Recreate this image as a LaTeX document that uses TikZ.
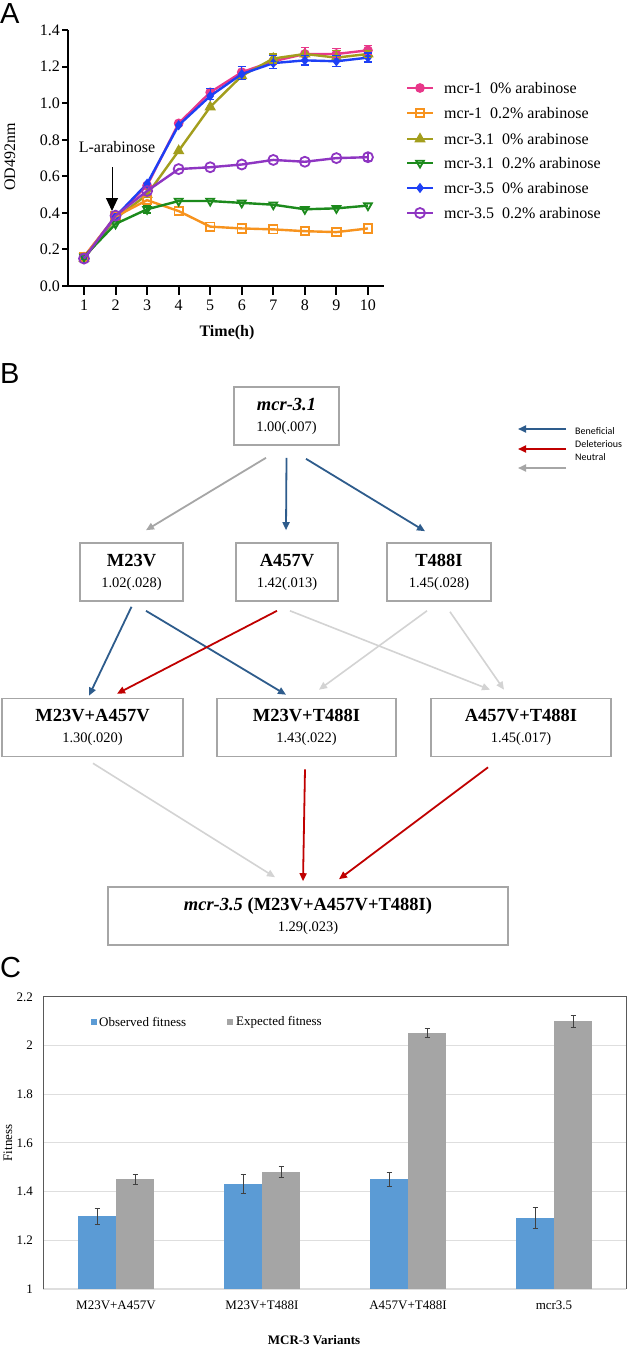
\documentclass[tikz,border=0pt]{standalone}
\usepackage{fontspec}
\setmainfont{Liberation Serif}
\newfontfamily\arialf{Liberation Sans}
\newfontfamily\calib{Carlito}
\usetikzlibrary{arrows.meta,plotmarks,calc}
\definecolor{cpink}{HTML}{E8388A}
\definecolor{corange}{HTML}{F7931E}
\definecolor{colive}{HTML}{A39E1D}
\definecolor{cgreen}{HTML}{1C8A1C}
\definecolor{cblueA}{HTML}{1E40F5}
\definecolor{cpurple}{HTML}{8E35C2}
\definecolor{bben}{HTML}{2E5C8C}
\definecolor{bdel}{HTML}{C00000}
\definecolor{bneu}{HTML}{A6A6A6}
\definecolor{bneul}{HTML}{D3D3D3}
\definecolor{boxgray}{HTML}{A6A6A6}
\definecolor{obsc}{HTML}{5B9BD5}
\definecolor{expc}{HTML}{A5A5A5}
\definecolor{gridc}{HTML}{DEDEDE}
\definecolor{framec}{HTML}{595959}
\definecolor{errc}{HTML}{404040}
\newcommand{\fs}[1]{\fontsize{#1}{1.2\dimexpr #1pt\relax}\selectfont}
\newcommand{\ebar}[4]{\draw[#1,line width=1.4pt] (#2,#3) -- (#2,#4) (#2-0.13,#3) -- (#2+0.13,#3) (#2-0.13,#4) -- (#2+0.13,#4);}
\newcommand{\cbar}[3]{\draw[errc,line width=0.8pt] (#1,#2) -- (#1,#3) (#1-2.5,#2) -- (#1+2.5,#2) (#1-2.5,#3) -- (#1+2.5,#3);}
\tikzset{
  ser/.style={line width=2.4pt},
  openmk/.style={mark options={fill=white,line width=1.8pt}},
  nbox/.style={draw=boxgray, line width=1.6pt, minimum height=58pt, inner sep=0pt, align=center, font=\fontsize{14.5}{21}\selectfont},
  tip/.style={-{Triangle[length=8pt,width=7pt]}},
  ben/.style={draw=bben, line width=1.8pt, tip},
  del/.style={draw=bdel, line width=1.8pt, tip},
  neu/.style={draw=bneu, line width=1.8pt, tip},
  neul/.style={draw=bneul, line width=1.6pt, tip},
  plab/.style={font=\arialf\fs{29}, inner sep=0pt, anchor=west},
}
\begin{document}
\begin{tikzpicture}[x=1pt,y=-1pt]
\useasboundingbox (0,0) rectangle (630,1346);
\fill[white] (0,0) rectangle (630,1346);

% ---------------- Panel A ----------------
\node[plab] (lblA) at (0,14) {A};
\begin{scope}[shift={(52.45,286)}, x=31.55pt, y=182.7pt]
  \draw[line width=2.6pt] (0.493,1.4) -- (0.493,0) -- (10.51,0);
  \foreach \v/\l [count=\i] in {0/0.0,0.2/0.2,0.4/0.4,0.6/0.6,0.8/0.8,1/1.0,1.2/1.2,1.4/1.4}{
    \draw[line width=2pt] (0.493,\v) -- ++(-6pt,0pt);
    \node[anchor=east, font=\fs{16}, inner sep=0pt] (yl\i) at ([xshift=-8pt]0.493,\v) {\l};
  }
  \foreach \t in {1,...,10}{
    \draw[line width=2pt] (\t,0) -- ++(0pt,-9pt);
    \node[font=\fs{16}, inner sep=0pt] (xl\t) at ([yshift=-19pt]\t,0) {\t};
  }
  % series
  \draw[ser,cpink,mark=*,mark size=3.6pt] plot coordinates {(1,0.16) (2,0.38) (3,0.55) (4,0.89) (5,1.06) (6,1.17) (7,1.23) (8,1.27) (9,1.27) (10,1.29)};
  \draw[ser,colive,mark=triangle*,mark size=4.2pt] plot coordinates {(1,0.15) (2,0.37) (3,0.50) (4,0.74) (5,0.98) (6,1.15) (7,1.245) (8,1.27) (9,1.25) (10,1.27)};
  \draw[ser,cblueA,mark=diamond*,mark size=3.2pt] plot coordinates {(1,0.15) (2,0.38) (3,0.56) (4,0.88) (5,1.04) (6,1.16) (7,1.22) (8,1.235) (9,1.23) (10,1.25)};
  \draw[ser,corange,mark=square,mark size=4.2pt,openmk] plot coordinates {(1,0.16) (2,0.38) (3,0.47) (4,0.41) (5,0.325) (6,0.315) (7,0.31) (8,0.30) (9,0.295) (10,0.315)};
  \draw[ser,cgreen,mark=triangle,mark size=4.5pt,mark options={fill=white,line width=1.8pt,rotate=180}] plot coordinates {(1,0.16) (2,0.34) (3,0.42) (4,0.465) (5,0.465) (6,0.455) (7,0.445) (8,0.42) (9,0.425) (10,0.44)};
  \draw[ser,cpurple,mark=o,mark size=5pt,openmk] plot coordinates {(1,0.15) (2,0.385) (3,0.52) (4,0.64) (5,0.65) (6,0.665) (7,0.69) (8,0.68) (9,0.70) (10,0.705)};
  % error bars
  \ebar{cpink}{8}{1.26}{1.305}
  \ebar{cpink}{9}{1.25}{1.30}
  \ebar{cpink}{10}{1.27}{1.315}
  \ebar{colive}{7}{1.22}{1.27}
  \ebar{colive}{9}{1.20}{1.29}
  \ebar{colive}{10}{1.25}{1.29}
  \ebar{cblueA}{5}{1.02}{1.08}
  \ebar{cblueA}{6}{1.13}{1.20}
  \ebar{cblueA}{7}{1.19}{1.26}
  \ebar{cblueA}{8}{1.21}{1.26}
  \ebar{cblueA}{9}{1.20}{1.26}
  \ebar{cblueA}{10}{1.225}{1.275}
  \ebar{cgreen}{3}{0.40}{0.44}
  \ebar{cpurple}{10}{0.685}{0.725}
\end{scope}
\node[rotate=90, font=\fs{16}] (ylabA) at (10,157) {OD492nm};
\node[font=\bfseries\fs{16}] (xlabA) at (227,333) {Time(h)};
\node[font=\fs{16}, inner sep=0pt] (larab) at (117,147) {L-arabinose};
\coordinate (arS) at (112,167);
\coordinate (arE) at (112,211);
\draw[line width=1pt, -{Triangle[length=13pt,width=12pt]}] (arS) -- (arE);
% legend A
\foreach \y/\c/\m/\o/\s/\txt [count=\i] in {
  88/cpink/*/{}/3.6pt/{mcr-1\ \ 0\% arabinose},
  113/corange/square/{fill=white,line width=1.8pt}/4.2pt/{mcr-1\ \ 0.2\% arabinose},
  139/colive/triangle*/{}/4.2pt/{mcr-3.1\ \ 0\% arabinose},
  163/cgreen/triangle/{fill=white,line width=1.8pt,rotate=180}/4.5pt/{mcr-3.1\ \ 0.2\% arabinose},
  188/cblueA/diamond*/{}/3.2pt/{mcr-3.5\ \ 0\% arabinose},
  213/cpurple/o/{fill=white,line width=1.8pt}/5pt/{mcr-3.5\ \ 0.2\% arabinose}}{
  \draw[ser,\c,mark=\m,mark size=\s,mark options/.expanded={\o},mark indices={2}] plot coordinates {(407,\y) (420,\y) (433,\y)};
  \node[anchor=west, font=\fs{16}, inner sep=0pt] (lgA\i) at (444,\y) {\txt};
}

% ---------------- Panel B ----------------
\node[plab] (lblB) at (0,374) {B};
\node[nbox, minimum width=105pt] (m31) at (286.5,416) {{\fontsize{18.5}{21}\selectfont\bfseries\itshape mcr-3.1}\\1.00(.007)};
\node[nbox, minimum width=103pt] (m23) at (131.5,572) {{\fontsize{18.5}{21}\selectfont\bfseries M23V}\\1.02(.028)};
\node[nbox, minimum width=102pt] (a457) at (287,572) {{\fontsize{18.5}{21}\selectfont\bfseries A457V}\\1.42(.013)};
\node[nbox, minimum width=104pt] (t488) at (439,572) {{\fontsize{18.5}{21}\selectfont\bfseries T488I}\\1.45(.028)};
\node[nbox, minimum width=181pt] (mA) at (92.5,727.5) {{\fontsize{18.5}{21}\selectfont\bfseries M23V+A457V}\\1.30(.020)};
\node[nbox, minimum width=179pt] (mT) at (306.5,727.5) {{\fontsize{18.5}{21}\selectfont\bfseries M23V+T488I}\\1.43(.022)};
\node[nbox, minimum width=180pt] (aT) at (521,727.5) {{\fontsize{18.5}{21}\selectfont\bfseries A457V+T488I}\\1.45(.017)};
\node[nbox, minimum width=400pt] (m35) at (308,916) {{\fontsize{18.5}{21}\selectfont\bfseries\textit{mcr-3.5} (M23V+A457V+T488I)}\\1.29(.023)};

\draw[neu] ([xshift=-20.5pt,yshift=-12pt]m31.south) -- ([xshift=14.5pt,yshift=12pt]m23.north);
\draw[ben] ([yshift=-12pt]m31.south) -- ([xshift=-1pt,yshift=12pt]a457.north);
\draw[ben] ([xshift=19.5pt,yshift=-13pt]m31.south) -- ([xshift=-14pt,yshift=11pt]t488.north);
\draw[ben] ([yshift=-5pt]m23.south) -- ([xshift=-3.5pt,yshift=2pt]mA.north);
\draw[ben] ([xshift=14.5pt,yshift=-9pt]m23.south) -- ([xshift=-20.5pt,yshift=3pt]mT.north);
\draw[neul] ([xshift=3pt,yshift=-9pt]a457.south) -- ([xshift=-31pt,yshift=8pt]aT.north);
\draw[neul] ([xshift=-12pt,yshift=-9pt]t488.south) -- ([xshift=12.5pt,yshift=8pt]mT.north);
\draw[neul] ([xshift=11pt,yshift=-10pt]t488.south) -- ([xshift=-17pt,yshift=8pt]aT.north);
\draw[del] ([xshift=-10pt,yshift=-9pt]a457.south) -- ([xshift=24.5pt,yshift=4pt]mA.north);
\draw[neul] ([xshift=0.5pt,yshift=-6pt]mA.south) -- ([xshift=-33pt,yshift=9pt]m35.north);
\draw[del] ([xshift=-1.5pt,yshift=-12pt]mT.south) -- ([xshift=-5pt,yshift=5pt]m35.north);
\draw[del] ([xshift=-33pt,yshift=-10pt]aT.south) -- ([xshift=31pt,yshift=7pt]m35.north);

% legend B
\coordinate (lb1s) at (566,429); \coordinate (lb1e) at (518,429);
\coordinate (lb2s) at (566,449); \coordinate (lb2e) at (518,449);
\coordinate (lb3s) at (566,468); \coordinate (lb3e) at (518,468);
\draw[ben] (lb1s) -- (lb1e);
\draw[del] (lb2s) -- (lb2e);
\draw[neu] (lb3s) -- (lb3e);
\node[anchor=west, font=\calib\fs{10}, inner sep=0pt] (lgB1) at (575,431) {Beneficial};
\node[anchor=west, font=\calib\fs{10}, inner sep=0pt] (lgB2) at (575,444) {Deleterious};
\node[anchor=west, font=\calib\fs{10}, inner sep=0pt] (lgB3) at (575,457) {Neutral};

% ---------------- Panel C ----------------
\node[plab] (lblC) at (0,968) {C};
\begin{scope}[shift={(0,1289)}, x=1pt, y=243.5pt]
  \foreach \u in {0.2,0.4,0.6,0.8,1.0}{
    \draw[gridc, line width=1.1pt] (43,\u) -- (626,\u);
  }
  \draw[gridc, line width=1.3pt] (43,0) -- (626,0);
  \draw[framec, line width=0.9pt] (43,0) -- (43,1.2) -- (626,1.2) -- (626,0);
  \foreach \u/\l [count=\i] in {0/1,0.2/1.2,0.4/1.4,0.6/1.6,0.8/1.8,1.0/2,1.2/2.2}{
    \node[anchor=east, font=\fs{13}, inner sep=0pt] (cyl\i) at (33,\u) {\l};
  }
  % bars: centres 116, 262, 408, 554
  \fill[obsc] (78,0) rectangle (116,0.30);
  \fill[expc] (116,0) rectangle (154,0.45);
  \fill[obsc] (224,0) rectangle (262,0.43);
  \fill[expc] (262,0) rectangle (300,0.48);
  \fill[obsc] (370,0) rectangle (408,0.45);
  \fill[expc] (408,0) rectangle (446,1.05);
  \fill[obsc] (516,0) rectangle (554,0.29);
  \fill[expc] (554,0) rectangle (592,1.10);
  \cbar{97}{0.267}{0.333}
  \cbar{135}{0.43}{0.47}
  \cbar{243}{0.392}{0.472}
  \cbar{281}{0.46}{0.505}
  \cbar{389}{0.42}{0.48}
  \cbar{427}{1.035}{1.07}
  \cbar{535}{0.25}{0.335}
  \cbar{573}{1.075}{1.125}
\end{scope}
\fill[obsc] (91,1019) rectangle (97,1025);
\node[anchor=west, font=\fs{13}, inner sep=0pt] (lgC1) at (99,1022) {Observed fitness};
\fill[expc] (227,1019) rectangle (233,1025);
\node[anchor=west, font=\fs{13}, inner sep=0pt] (lgC2) at (236,1022) {Expected fitness};
\node[font=\fs{13}] (cx1) at (116,1305) {M23V+A457V};
\node[font=\fs{13}] (cx2) at (262,1305) {M23V+T488I};
\node[font=\fs{13}] (cx3) at (408,1305) {A457V+T488I};
\node[font=\fs{13}] (cx4) at (554,1305) {mcr3.5};
\node[font=\bfseries\fs{13}] (cxl) at (314,1340) {MCR-3 Variants};
\node[rotate=90, font=\fs{13}] (cyl) at (8,1143) {Fitness};
\end{tikzpicture}
\end{document}
